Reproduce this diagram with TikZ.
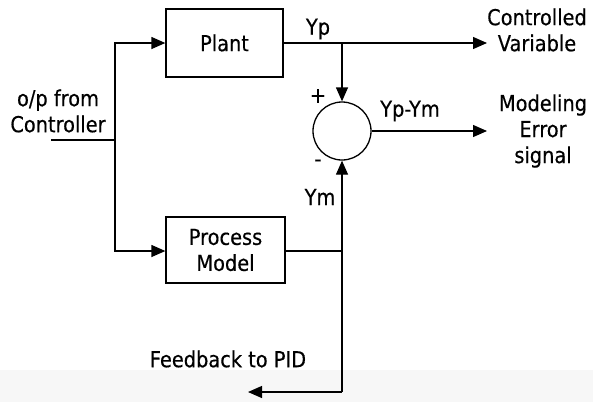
\documentclass[tikz,border=0pt]{standalone}
\usepackage{fontspec}
\setmainfont{DejaVu Sans}[FakeStretch=0.88,FakeBold=0.4]
\usetikzlibrary{arrows.meta}
\begin{document}
\begin{tikzpicture}[x=1pt,y=-1pt,
  line width=1.3pt,
  blk/.style={draw,line width=1.3pt,inner sep=0pt,align=center},
  lbl/.style={inner sep=0pt,align=center,font=\fontsize{22}{26}\selectfont},
  arr/.style={-{Triangle[length=14pt,width=12pt]}},
  every node/.style={font=\fontsize{22}{26}\selectfont}]
\useasboundingbox (0,0) rectangle (593,402);
\fill[black!3] (0,370) rectangle (593,402);
% blocks
\node[blk,minimum width=117pt,minimum height=68pt] (plant) at (224.5,43) {Plant};
\node[blk,minimum width=119pt,minimum height=66pt] (model) at (225.5,250) {Process\\Model};
\node[draw,circle,line width=1.3pt,minimum size=58pt,inner sep=0pt] (sum) at (342,131) {};
% coordinates
\coordinate (in) at (51,140);
\coordinate (j) at (115,140);
\coordinate (jt) at (115,43);
\coordinate (jb) at (115,251);
\coordinate (yp) at (342,43);
\coordinate (cv) at (487,43);
\coordinate (me) at (487,131);
\coordinate (ym) at (342,251);
\coordinate (fb) at (342,392);
\coordinate (pid) at (248,392);
% connectors
\draw (in) -- (j);
\draw[arr] (j) -- (jt) -- (plant.west);
\draw[arr] (j) -- (jb) -- (model.west |- jb);
\draw[arr] (plant.east |- yp) -- (cv);
\draw[arr] (yp) -- (sum.north);
\draw[arr] (sum.east) -- (me);
\draw (model.east |- ym) -- (ym);
\draw[arr] (fb) -- (sum.south);
\draw[arr] (fb) -- (pid);
% labels
\node[lbl] (l1) at (58,111) {o/p from\\Controller};
\node[lbl] (l2) at (318,29) {Yp};
\node[lbl] (l3) at (537,30) {Controlled\\Variable};
\node[lbl] (l4) at (318,96) {+};
\node[lbl] (l5) at (410,111) {Yp-Ym};
\node[lbl] (l6) at (543,131) {Modeling\\Error\\signal};
\node[lbl] (l7) at (318,163) {-};
\node[lbl] (l8) at (320,197) {Ym};
\node[lbl] (l9) at (228,359) {Feedback to PID};
\end{tikzpicture}
\end{document}
